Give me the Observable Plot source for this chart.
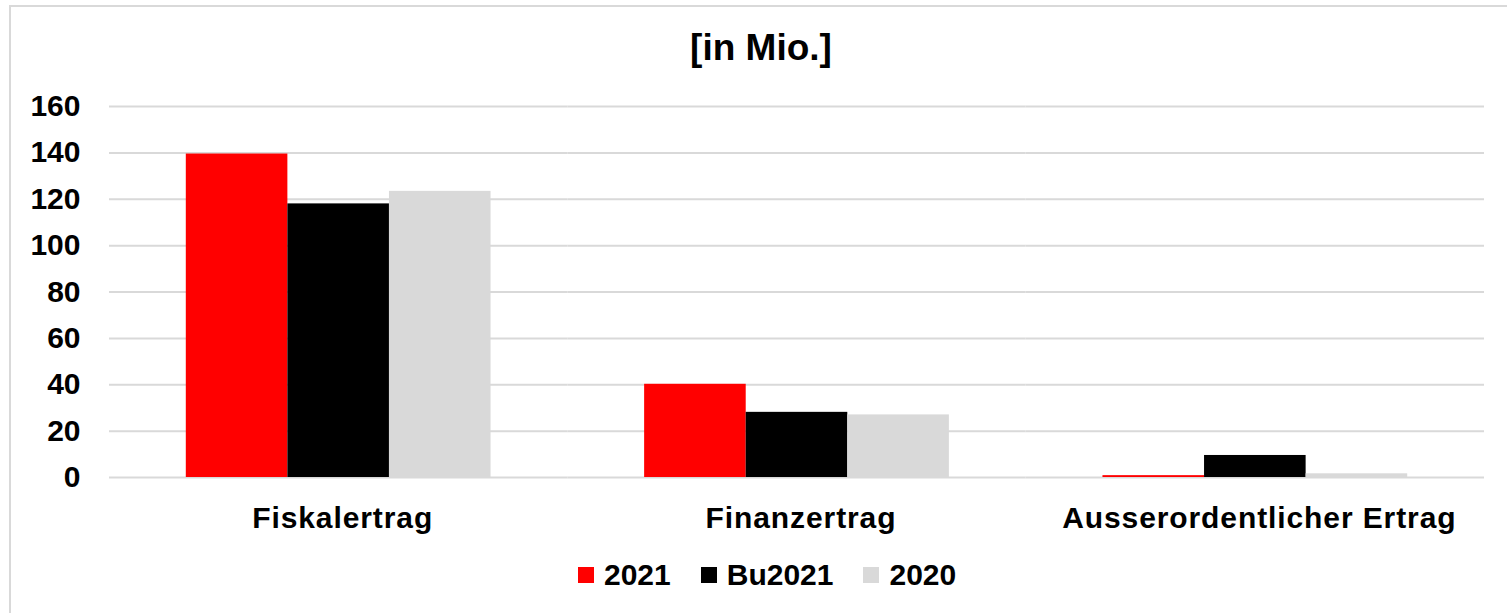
<!DOCTYPE html>
<html>
<head>
<meta charset="utf-8">
<script src="https://cdn.jsdelivr.net/npm/d3@7"></script>
<script src="https://cdn.jsdelivr.net/npm/@observablehq/plot@0.6"></script>
<style>
  html, body { margin: 0; padding: 0; background: #fff; overflow: hidden; }
  body { font-family: Arial, "Liberation Sans", sans-serif; }
  #wrap { position: relative; width: 1507px; height: 613px; overflow: hidden; }
  #frame { position: absolute; left: 9px; top: 5px; width: 1520px; height: 640px; border: 2px solid #d9d9d9; box-sizing: border-box; }
  #title { position: absolute; left: 361px; width: 800px; top: 29px; text-align: center; font-size: 37px; line-height: 37px; font-weight: bold; color: #000; }
  #chart { position: absolute; left: 0; top: 90px; }
  #chart g[aria-label*="fx-axis"] text { letter-spacing: 0.9px; }
  #legend { position: absolute; left: 578px; top: 560px; display: flex; align-items: center; font-size: 30px; line-height: 30px; font-weight: bold; color: #000; }
  .item { display: flex; align-items: center; margin-right: 30px; }
  .sw { width: 16px; height: 16px; margin-right: 10px; }
</style>
</head>
<body>
<div id="wrap">
  <div id="frame"></div>
  <div id="title">[in Mio.]</div>
  <div id="chart"></div>
  <div id="legend"></div>
</div>
<script>
const categories = ["Fiskalertrag", "Finanzertrag", "Ausserordentlicher Ertrag"];
const series = ["2021", "Bu2021", "2020"];
const values2021 = [139.5, 40.2, 0.8];
const valuesBu2021 = [118.0, 28.1, 9.5];
const values2020 = [123.4, 27.0, 1.6];
const colors = ["#ff0000", "#000000", "#d9d9d9"];
const yTicks = [0, 20, 40, 60, 80, 100, 120, 140, 160];

const seriesValues = [values2021, valuesBu2021, values2020];
const data = [];
categories.forEach((c, i) => {
  series.forEach((s, j) => {
    data.push({category: c, series: s, value: seriesValues[j][i]});
  });
});

const plot = Plot.plot({
  width: 1507,
  height: 447,
  marginLeft: 109,
  marginRight: 23,
  marginTop: 16,
  marginBottom: 60,
  style: {fontFamily: "Arial, 'Liberation Sans', sans-serif", fontWeight: "bold", color: "#000", background: "transparent", overflow: "visible"},
  fx: {domain: categories, paddingInner: 0, paddingOuter: 0, round: false, label: null},
  x: {domain: series, paddingInner: 0, paddingOuter: 0.756, round: false, axis: null},
  y: {domain: [0, 160], label: null},
  color: {domain: series, range: colors},
  marks: [
    Plot.gridY(yTicks, {stroke: "#d9d9d9", strokeOpacity: 1, strokeWidth: 2}),
    Plot.barY(data, {fx: "category", x: "series", y: "value", fill: "series"}),
    Plot.axisY(yTicks, {tickSize: 0, tickPadding: 29, fontSize: 30, fontWeight: "bold", label: null}),
    Plot.axisFx({anchor: "bottom", tickSize: 0, tickPadding: 29, dx: 4, fontSize: 30, fontWeight: "bold", label: null})
  ]
});
document.getElementById("chart").appendChild(plot);

const colorScale = plot.scale("color");
const legend = document.getElementById("legend");
series.forEach((s, i) => {
  const item = document.createElement("div");
  item.className = "item";
  const sw = document.createElement("span");
  sw.className = "sw";
  sw.style.background = colorScale.range[i];
  const t = document.createElement("span");
  t.textContent = s;
  item.appendChild(sw);
  item.appendChild(t);
  legend.appendChild(item);
});
</script>
</body>
</html>
